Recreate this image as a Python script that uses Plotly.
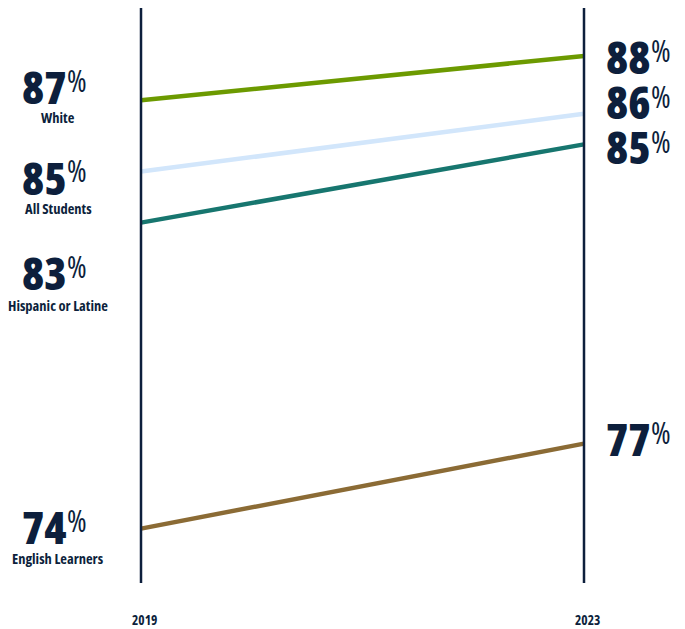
import plotly.graph_objects as go

years = [2019, 2023]
groups = ["White", "All Students", "Hispanic or Latine", "English Learners"]
values_2019 = [86.7, 84.6, 83.1, 74.1]
values_2023 = [88.0, 86.3, 85.4, 76.6]
colors = ["#6c9a00", "#d2e6fb", "#17766f", "#8b6b35"]
draw_order = [3, 2, 1, 0]

NAVY = "#0d1f3c"
FONT = "Open Sans, sans-serif"

OFF = 8  # page body margin
W, H = 685 - OFF, 629 - OFF
plot_top, plot_bottom = 8 - OFF, 583 - OFF


def cond(s):
    return f"<span style='font-stretch:75%'>{s}</span>"


fig = go.Figure()
for i in draw_order:
    fig.add_trace(go.Scatter(
        x=years, y=[values_2019[i], values_2023[i]], mode="lines",
        line=dict(color=colors[i], width=4.5), hoverinfo="skip", showlegend=False,
    ))

for yr in years:
    fig.add_shape(type="line", xref="x", yref="paper", x0=yr, x1=yr, y0=0, y1=1,
                  line=dict(color=NAVY, width=2.5), layer="above")


def py(pix):
    return (plot_bottom - (pix - OFF)) / (plot_bottom - plot_top)


def px(pix):
    return (pix - OFF) / W


num_font = dict(family=FONT, size=45, color=NAVY, weight=800)
pct_font = dict(family=FONT, size=30, color=NAVY, weight=500)
name_font = dict(family=FONT, size=14.5, color=NAVY, weight=700)

ann = []
left_pos = [(86, 117), (177, 208), (272, 305), (526, 558)]
for i, (ny, ly) in enumerate(left_pos):
    ann.append(dict(x=px(68), y=py(ny), xref="paper", yref="paper", text=cond(round(values_2019[i])),
                    xanchor="right", yanchor="middle", showarrow=False, font=num_font,
                    borderpad=0))
    ann.append(dict(x=px(66), y=py(ny - 6), xref="paper", yref="paper", text=cond("%"),
                    xanchor="left", yanchor="middle", showarrow=False, font=pct_font,
                    borderpad=0))
    ann.append(dict(x=px(58), y=py(ly), xref="paper", yref="paper", text=cond(groups[i]),
                    xanchor="center", yanchor="middle", showarrow=False, font=name_font))

right_pos = [57, 102, 147, 438]
for i, ny in enumerate(right_pos):
    ann.append(dict(x=px(652), y=py(ny), xref="paper", yref="paper", text=cond(round(values_2023[i])),
                    xanchor="right", yanchor="middle", showarrow=False, font=num_font,
                    borderpad=0))
    ann.append(dict(x=px(650), y=py(ny - 6), xref="paper", yref="paper", text=cond("%"),
                    xanchor="left", yanchor="middle", showarrow=False, font=pct_font,
                    borderpad=0))

for yr in years:
    ann.append(dict(x=yr, y=py(620), xref="x", yref="paper", text=cond(yr),
                    xanchor="center", yanchor="middle", showarrow=False, xshift=3,
                    font=dict(family=FONT, size=13.5, color=NAVY, weight=700)))

px_per_year = (584 - 141) / 4
x0 = 2019 - (141 - OFF) / px_per_year
x1 = 2023 + (685 - 584) / px_per_year
px_per_pt = 34
y_hi = 88.0 + (56 - 8) / px_per_pt
y_lo = 88.0 - (583 - 56) / px_per_pt

fig.update_layout(
    width=W, height=H,
    margin=dict(l=0, r=0, t=plot_top, b=H - plot_bottom),
    plot_bgcolor="white", paper_bgcolor="white",
    xaxis=dict(range=[x0, x1], visible=False, fixedrange=True),
    yaxis=dict(range=[y_lo, y_hi], visible=False, fixedrange=True),
    annotations=ann,
)

fig.write_html("out.html")
